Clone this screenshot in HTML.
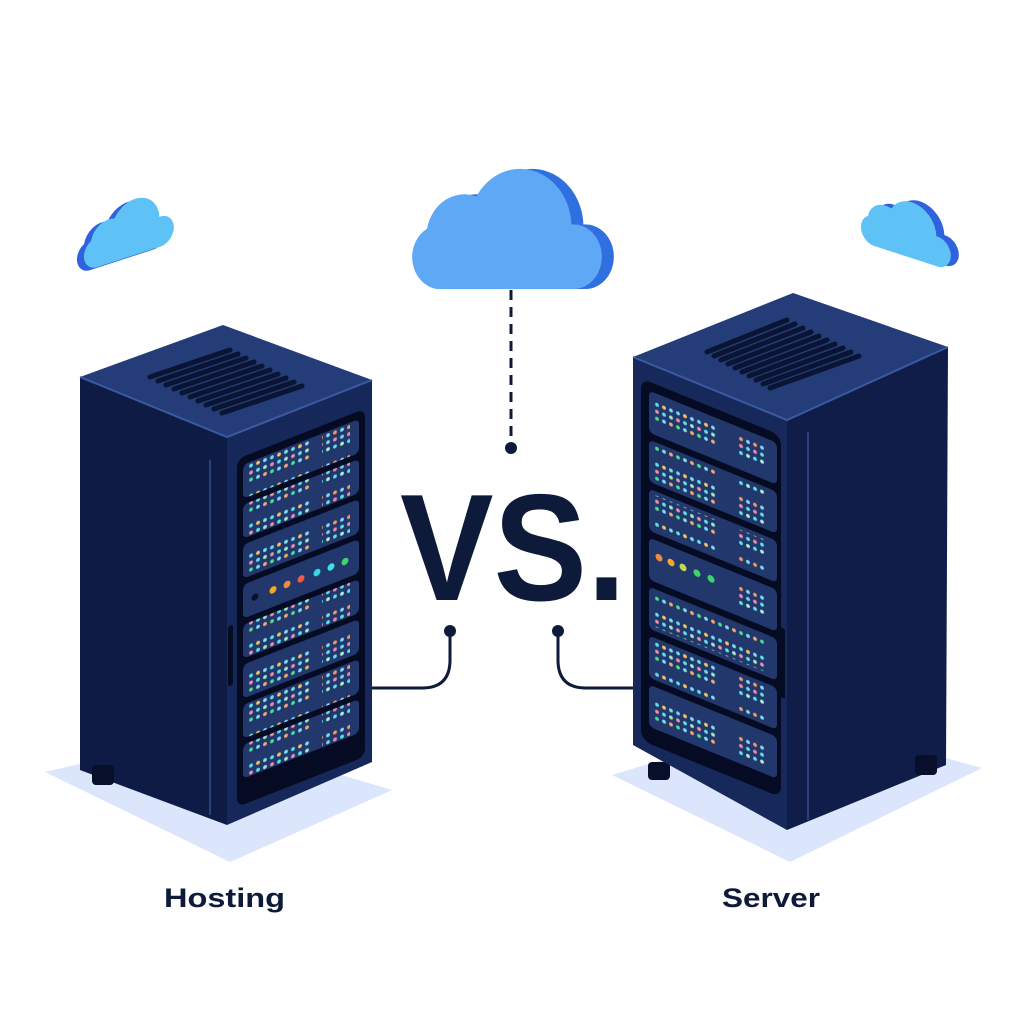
<!DOCTYPE html>
<html><head><meta charset="utf-8"><style>
html,body{margin:0;padding:0;background:#fff;}
svg{display:block;}
</style></head><body>
<svg width="1024" height="1024" viewBox="0 0 1024 1024" xmlns="http://www.w3.org/2000/svg">
<defs>
<pattern id="ledA" width="21" height="30" patternUnits="userSpaceOnUse">
<circle cx="3" cy="8" r="1.9" fill="#5ce1e6"/><circle cx="10" cy="8" r="1.9" fill="#f6c35b"/><circle cx="17" cy="8" r="1.9" fill="#7fd8f5"/>
<circle cx="3" cy="15" r="1.9" fill="#ef8fa8"/><circle cx="10" cy="15" r="1.9" fill="#5ce1e6"/><circle cx="17" cy="15" r="1.9" fill="#9ee8c0"/>
<circle cx="3" cy="22" r="1.9" fill="#4de08a"/><circle cx="10" cy="22" r="1.9" fill="#7fd8f5"/><circle cx="17" cy="22" r="1.9" fill="#f4a86a"/>
</pattern>
<pattern id="ledB" width="14" height="30" patternUnits="userSpaceOnUse">
<circle cx="3" cy="8" r="1.9" fill="#7fd8f5"/><circle cx="10" cy="8" r="1.9" fill="#f19a5a"/>
<circle cx="3" cy="15" r="1.9" fill="#5ce1e6"/><circle cx="10" cy="15" r="1.9" fill="#e98aa6"/>
<circle cx="3" cy="22" r="1.9" fill="#a8f0d0"/><circle cx="10" cy="22" r="1.9" fill="#5ce1e6"/>
</pattern>
<path id="cloud" d="M15,60 A15,15 0 0 1 10,32 A20,20 0 0 1 36,17 A27,27 0 0 1 86,30 A15,15 0 0 1 88,60 Z"/>
</defs>

<!-- shadows -->
<polygon points="45,772 230,862 392,790 205,735" fill="#dbe5fb"/>
<polygon points="612,775 790,862 982,768 800,718" fill="#dbe5fb"/>

<!-- clouds -->
<g transform="translate(420,160) scale(1.9,2.15)"><use href="#cloud" fill="#2f6fe0"/></g>
<g transform="translate(408,160) scale(1.9,2.15)"><use href="#cloud" fill="#5fa8f6"/></g>
<g transform="translate(75,215) skewY(-18) scale(0.9,1.0)"><use href="#cloud" fill="#2f62dc"/></g>
<g transform="translate(82,212) skewY(-18) scale(0.9,1.0)"><use href="#cloud" fill="#5ec2f6"/></g>
<g transform="translate(867,180) skewY(18) scale(0.9,1.0)"><use href="#cloud" fill="#2f62dc"/></g>
<g transform="translate(859,181) skewY(18) scale(0.9,1.0)"><use href="#cloud" fill="#5ec2f6"/></g>

<!-- dashed connector -->
<line x1="511" y1="290" x2="511" y2="446" stroke="#0e1a3a" stroke-width="3" stroke-dasharray="10,7"/>
<circle cx="511" cy="448" r="6" fill="#0e1a3a"/>

<!-- LEFT SERVER -->
<polygon points="80,377 227,437 227,825 80,770" fill="#0e1b44"/>
<rect x="92" y="765" width="22" height="20" rx="4" fill="#070f2a"/>
<polygon points="227,437 372,380 372,762 227,825" fill="#16285a"/>
<polygon points="80,377 223,325 372,380 227,437" fill="#243c78"/>
<polyline points="80,377 227,437 372,380" fill="none" stroke="#3a5aa0" stroke-width="2"/>
<line x1="210" y1="460" x2="210" y2="815" stroke="#2a4080" stroke-width="2"/>
<g stroke="#0a1433" stroke-width="5" stroke-linecap="round">
<line x1="150" y1="377" x2="230" y2="350"/><line x1="158" y1="381" x2="238" y2="354"/><line x1="166" y1="385" x2="246" y2="358"/><line x1="174" y1="389" x2="254" y2="362"/><line x1="182" y1="393" x2="262" y2="366"/><line x1="190" y1="397" x2="270" y2="370"/><line x1="198" y1="401" x2="278" y2="374"/><line x1="206" y1="405" x2="286" y2="378"/><line x1="214" y1="409" x2="294" y2="382"/><line x1="222" y1="413" x2="302" y2="386"/>
</g>
<g transform="translate(227,437) skewY(-21.5)">
<rect x="10" y="26" width="128" height="348" rx="8" fill="#050b22"/>
<g fill="#22386c">
<rect x="16" y="34" width="116" height="34" rx="5"/><rect x="16" y="74" width="116" height="34" rx="5"/><rect x="16" y="114" width="116" height="34" rx="5"/><rect x="16" y="154" width="116" height="34" rx="5"/><rect x="16" y="194" width="116" height="34" rx="5"/><rect x="16" y="234" width="116" height="34" rx="5"/><rect x="16" y="274" width="116" height="34" rx="5"/><rect x="16" y="314" width="116" height="34" rx="5"/>
</g>
<g>
<rect x="22" y="34" width="63" height="34" fill="url(#ledA)"/><rect x="95" y="34" width="28" height="34" fill="url(#ledB)"/>
<rect x="22" y="74" width="63" height="34" fill="url(#ledA)"/><rect x="95" y="74" width="28" height="34" fill="url(#ledB)"/>
<rect x="22" y="114" width="63" height="34" fill="url(#ledA)"/><rect x="95" y="114" width="28" height="34" fill="url(#ledB)"/>
<circle cx="28" cy="171" r="3.5" fill="#0a1230"/><circle cx="46" cy="171" r="3.5" fill="#f5a623"/><circle cx="60" cy="171" r="3.5" fill="#f08a3c"/><circle cx="74" cy="171" r="3.5" fill="#ef5a4a"/><circle cx="90" cy="171" r="3.5" fill="#35d6e8"/><circle cx="104" cy="171" r="3.5" fill="#3ee0e0"/><circle cx="118" cy="171" r="3.5" fill="#3fd46a"/>
<rect x="22" y="194" width="63" height="34" fill="url(#ledA)"/><rect x="95" y="194" width="28" height="34" fill="url(#ledB)"/>
<rect x="22" y="234" width="63" height="34" fill="url(#ledA)"/><rect x="95" y="234" width="28" height="34" fill="url(#ledB)"/>
<rect x="22" y="274" width="63" height="34" fill="url(#ledA)"/><rect x="95" y="274" width="28" height="34" fill="url(#ledB)"/>
<rect x="22" y="314" width="63" height="34" fill="url(#ledA)"/><rect x="95" y="314" width="28" height="34" fill="url(#ledB)"/>
</g>
<rect x="1" y="190" width="5" height="60" rx="2" fill="#050b22"/>
</g>

<!-- RIGHT SERVER -->
<polygon points="787,420 948,347 946,765 787,830" fill="#0f1d48"/>
<rect x="915" y="755" width="22" height="20" rx="4" fill="#070f2a"/>
<rect x="648" y="762" width="22" height="18" rx="4" fill="#070f2a"/>
<line x1="808" y1="432" x2="808" y2="820" stroke="#2a4080" stroke-width="2"/>
<polygon points="633,357 787,420 787,830 633,745" fill="#17295a"/>
<polygon points="633,357 793,293 948,347 787,420" fill="#243c78"/>
<polyline points="633,357 787,420 948,347" fill="none" stroke="#3a5aa0" stroke-width="2"/>
<g stroke="#0a1433" stroke-width="5" stroke-linecap="round">
<line x1="707" y1="352" x2="787" y2="320"/><line x1="714" y1="356" x2="795" y2="324"/><line x1="721" y1="360" x2="803" y2="328"/><line x1="728" y1="364" x2="811" y2="332"/><line x1="735" y1="368" x2="819" y2="336"/><line x1="742" y1="372" x2="827" y2="340"/><line x1="749" y1="376" x2="835" y2="344"/><line x1="756" y1="380" x2="843" y2="348"/><line x1="763" y1="384" x2="851" y2="352"/><line x1="770" y1="388" x2="859" y2="356"/>
</g>
<g transform="translate(633,357) skewY(22.2)">
<rect x="8" y="18" width="140" height="362" rx="10" fill="#050b22"/>
<g fill="#22386c">
<rect x="16" y="27" width="128" height="42" rx="5"/><rect x="16" y="76" width="128" height="42" rx="5"/><rect x="16" y="125" width="128" height="42" rx="5"/><rect x="16" y="174" width="128" height="42" rx="5"/><rect x="16" y="223" width="128" height="42" rx="5"/><rect x="16" y="272" width="128" height="42" rx="5"/><rect x="16" y="321" width="128" height="42" rx="5"/>
</g>
<g>
<rect x="22" y="31" width="63" height="34" fill="url(#ledA)"/><rect x="105" y="31" width="28" height="34" fill="url(#ledB)"/>
<rect x="22" y="80" width="63" height="34" fill="url(#ledA)"/><rect x="105" y="80" width="28" height="34" fill="url(#ledB)"/>
<rect x="22" y="129" width="63" height="34" fill="url(#ledA)"/><rect x="105" y="129" width="28" height="34" fill="url(#ledB)"/>
<circle cx="26" cy="190" r="3.5" fill="#f08a3c"/><circle cx="38" cy="190" r="3.5" fill="#f5a623"/><circle cx="50" cy="190" r="3.5" fill="#c8d84a"/><circle cx="64" cy="190" r="3.5" fill="#3fd46a"/><circle cx="78" cy="190" r="3.5" fill="#3fd46a"/><rect x="105" y="178" width="28" height="34" fill="url(#ledB)"/>
<rect x="22" y="227" width="110" height="34" fill="url(#ledA)"/>
<rect x="22" y="276" width="63" height="34" fill="url(#ledA)"/><rect x="105" y="276" width="28" height="34" fill="url(#ledB)"/>
<rect x="22" y="325" width="63" height="34" fill="url(#ledA)"/><rect x="105" y="325" width="28" height="34" fill="url(#ledB)"/>
</g>
<rect x="147" y="210" width="5" height="70" rx="2" fill="#050b22"/>
</g>

<!-- VS text -->
<text x="400" y="600" font-family="Liberation Sans, Arial, sans-serif" font-weight="bold" font-size="152" fill="#0e1a3a" textLength="226" lengthAdjust="spacingAndGlyphs">VS.</text>

<!-- connectors -->
<path d="M450,631 V660 Q450,688 422,688 H372" fill="none" stroke="#0e1a3a" stroke-width="3"/>
<circle cx="450" cy="631" r="6" fill="#0e1a3a"/>
<path d="M558,631 V660 Q558,688 586,688 H633" fill="none" stroke="#0e1a3a" stroke-width="3"/>
<circle cx="558" cy="631" r="6" fill="#0e1a3a"/>

<!-- labels -->
<text x="164" y="907" font-family="Liberation Sans, Arial, sans-serif" font-weight="bold" font-size="27" fill="#0e1a3a" textLength="121" lengthAdjust="spacingAndGlyphs">Hosting</text>
<text x="722" y="907" font-family="Liberation Sans, Arial, sans-serif" font-weight="bold" font-size="27" fill="#0e1a3a" textLength="98" lengthAdjust="spacingAndGlyphs">Server</text>
</svg>
</body></html>
